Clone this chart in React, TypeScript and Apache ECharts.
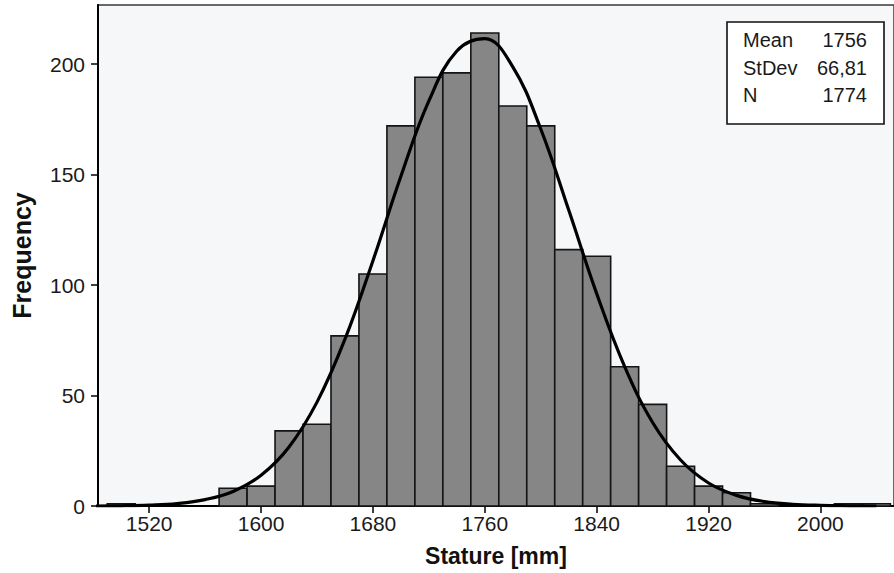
import React, { useEffect, useRef } from 'react';
import * as echarts from 'echarts';

// Histogram bins (centre of each 20 mm bin) and counts
const BIN_WIDTH = 20;
const BIN_CENTERS = [1500, 1520, 1540, 1560, 1580, 1600, 1620, 1640, 1660, 1680, 1700, 1720, 1740, 1760, 1780, 1800, 1820, 1840, 1860, 1880, 1900, 1920, 1940, 1960, 1980, 2000, 2020, 2040];
const BIN_COUNTS = [1, 0, 0, 0, 8, 9, 34, 37, 77, 105, 172, 194, 196, 214, 181, 172, 116, 113, 63, 46, 18, 9, 6, 1, 0, 0, 1, 1];

// Fitted normal curve
const CURVE_X = [1480, 1500, 1520, 1540, 1560, 1580, 1600, 1620, 1640, 1660, 1680, 1700, 1720, 1740, 1760, 1780, 1800, 1820, 1840, 1860, 1880, 1900, 1920, 1940, 1960, 1980, 2000, 2020, 2040];
const CURVE_Y = [0.0, 0.1, 0.4, 1.1, 2.9, 6.6, 13.9, 26.7, 47.0, 75.5, 111.0, 149.2, 183.3, 205.9, 211.5, 198.7, 170.6, 133.9, 96.1, 63.1, 37.8, 20.8, 10.4, 4.8, 2.0, 0.8, 0.3, 0.1, 0.0];

// Axis ticks
const X_TICKS = [1520, 1600, 1680, 1760, 1840, 1920, 2000];
const Y_TICKS = [0, 50, 100, 150, 200];

// Statistics box
const STAT_NAMES = ['Mean', 'StDev', 'N'];
const STAT_VALUES = ['1756', '66,81', '1774'];

const FONT = '"Liberation Sans", Arial, Helvetica, sans-serif';

export default function App() {
  const ref = useRef<HTMLDivElement>(null);

  useEffect(() => {
    if (!ref.current) return;
    const chart = echarts.init(ref.current, null, { renderer: 'svg' });

    const barData = BIN_CENTERS.map((c, i) => [c, BIN_COUNTS[i]]).filter((d) => d[1] > 0);
    const curveData = CURVE_X.map((x, i) => [x, CURVE_Y[i]]);

    const statGraphics: any[] = [
      {
        type: 'rect',
        shape: { x: 727, y: 22, width: 157, height: 102 },
        style: { fill: '#ffffff', stroke: '#111111', lineWidth: 1.6 },
        z: 100,
      },
    ];
    const rowY = [40, 67.5, 95];
    STAT_NAMES.forEach((name, i) => {
      statGraphics.push({
        type: 'text',
        x: 743,
        y: rowY[i],
        z: 101,
        style: {
          text: name,
          fill: '#1a1a1a',
          font: `20px ${FONT}`,
          align: 'left',
          verticalAlign: 'middle',
        },
      });
      statGraphics.push({
        type: 'text',
        x: 867,
        y: rowY[i],
        z: 101,
        style: {
          text: STAT_VALUES[i],
          fill: '#1a1a1a',
          font: `20px ${FONT}`,
          align: 'right',
          verticalAlign: 'middle',
        },
      });
    });

    chart.setOption({
      animation: false,
      backgroundColor: '#ffffff',
      grid: {
        left: 98,
        top: 5,
        width: 798,
        bottom: 67,
        show: true,
        backgroundColor: '#f6f7f9',
        borderColor: '#3a3a3a',
        borderWidth: 1.5,
      },
      xAxis: {
        type: 'value',
        min: 1483.4,
        max: 2052.6,
        name: 'Stature [mm]',
        nameLocation: 'middle',
        nameGap: 38,
        nameTextStyle: { fontFamily: FONT, fontSize: 23, fontWeight: 'bold', color: '#111111' },
        axisLine: { show: true, onZero: false, lineStyle: { color: '#000000', width: 2 } },
        axisTick: { show: true, length: 7, customValues: X_TICKS, lineStyle: { color: '#000000', width: 1.5 } },
        axisLabel: {
          customValues: X_TICKS,
          margin: 7,
          fontFamily: FONT,
          fontSize: 21,
          color: '#1a1a1a',
          formatter: (v: number) => String(v),
        },
        splitLine: { show: false },
      },
      yAxis: {
        type: 'value',
        min: 0,
        max: 226.7,
        name: 'Frequency',
        nameLocation: 'middle',
        nameGap: 64,
        nameTextStyle: { fontFamily: FONT, fontSize: 25, fontWeight: 'bold', color: '#111111' },
        axisLine: { show: true, lineStyle: { color: '#000000', width: 2 } },
        axisTick: { show: true, length: 7, customValues: Y_TICKS, lineStyle: { color: '#000000', width: 1.5 } },
        axisLabel: {
          customValues: Y_TICKS,
          margin: 13,
          fontFamily: FONT,
          fontSize: 21,
          color: '#1a1a1a',
          formatter: (v: number) => String(v),
        },
        splitLine: { show: false },
      },
      series: [
        {
          type: 'custom',
          name: 'Frequency',
          data: barData,
          renderItem: (params: any, api: any) => {
            const c = api.value(0);
            const v = api.value(1);
            const p0 = api.coord([c - BIN_WIDTH / 2, v]);
            const p1 = api.coord([c + BIN_WIDTH / 2, 0]);
            return {
              type: 'rect',
              shape: { x: p0[0], y: p0[1], width: p1[0] - p0[0], height: p1[1] - p0[1] },
              style: { fill: '#868686', stroke: '#141414', lineWidth: 1.6 },
            };
          },
          z: 2,
        },
        {
          type: 'line',
          data: curveData,
          smooth: 0.4,
          symbol: 'none',
          lineStyle: { color: '#000000', width: 3.2 },
          z: 3,
        },
      ],
      graphic: statGraphics,
    });

    return () => chart.dispose();
  }, []);

  return (
    <div
      ref={ref}
      style={{ position: 'fixed', left: 0, top: 0, width: 894, height: 573, background: '#ffffff' }}
    />
  );
}
